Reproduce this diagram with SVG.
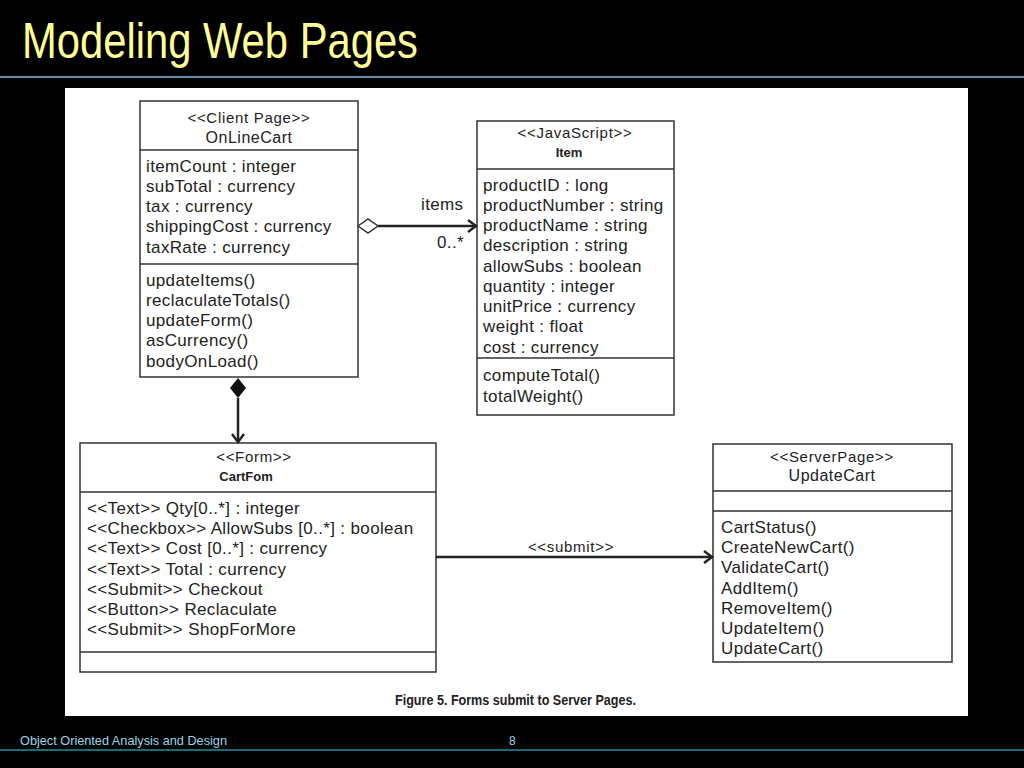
<svg xmlns="http://www.w3.org/2000/svg" width="1024" height="768" viewBox="0 0 1024 768">
<defs>
<style>
.t{font-family:"Liberation Sans",Arial,sans-serif;font-size:17px;letter-spacing:0.35px;fill:#222}
.st{font-family:"Liberation Sans",Arial,sans-serif;font-size:15px;letter-spacing:0.7px;fill:#222;text-anchor:middle}
.nm{font-family:"Liberation Sans",Arial,sans-serif;font-size:16px;letter-spacing:0.5px;fill:#222;text-anchor:middle}
.nb{font-family:"Liberation Sans",Arial,sans-serif;font-size:13px;font-weight:bold;fill:#222;text-anchor:middle}
.box{fill:#fff;stroke:#333;stroke-width:1.5}
.div{stroke:#333;stroke-width:1.5}
.con{stroke:#222;stroke-width:2.5;fill:none}
</style>
<marker id="open" markerWidth="12" markerHeight="14" refX="10" refY="7" orient="auto" markerUnits="userSpaceOnUse">
<path d="M2,1 L10,7 L2,13" fill="none" stroke="#222" stroke-width="2.5"/>
</marker>
</defs>
<rect x="0" y="0" width="1024" height="768" fill="#000"/>
<text x="22" y="58" font-family="Liberation Sans,Arial,sans-serif" font-size="50" fill="#FFFF99" textLength="396" lengthAdjust="spacingAndGlyphs">Modeling Web Pages</text>
<line x1="0" y1="77" x2="1024" y2="77" stroke="#5F8FAD" stroke-width="2"/>
<rect x="65" y="88" width="903" height="628" fill="#fff"/>

<g id="OnLineCart">
<rect class="box" x="140" y="101" width="218" height="276"/>
<line class="div" x1="140" y1="150" x2="358" y2="150"/>
<line class="div" x1="140" y1="264" x2="358" y2="264"/>
<text class="st" x="249" y="123">&lt;&lt;Client Page&gt;&gt;</text>
<text class="nm" x="249" y="143">OnLineCart</text>
<text class="t" x="146" y="172">itemCount : integer</text>
<text class="t" x="146" y="192">subTotal : currency</text>
<text class="t" x="146" y="212">tax : currency</text>
<text class="t" x="146" y="232">shippingCost : currency</text>
<text class="t" x="146" y="253">taxRate : currency</text>
<text class="t" x="146" y="286">updateItems()</text>
<text class="t" x="146" y="306">reclaculateTotals()</text>
<text class="t" x="146" y="326">updateForm()</text>
<text class="t" x="146" y="346">asCurrency()</text>
<text class="t" x="146" y="367">bodyOnLoad()</text>
</g>

<g id="Item">
<rect class="box" x="477" y="121" width="197" height="294"/>
<line class="div" x1="477" y1="169" x2="674" y2="169"/>
<line class="div" x1="477" y1="358" x2="674" y2="358"/>
<text class="st" x="575" y="138">&lt;&lt;JavaScript&gt;&gt;</text>
<text class="nb" x="569" y="157">Item</text>
<text class="t" x="483" y="191">productID : long</text>
<text class="t" x="483" y="211">productNumber : string</text>
<text class="t" x="483" y="231">productName : string</text>
<text class="t" x="483" y="251">description : string</text>
<text class="t" x="483" y="272">allowSubs : boolean</text>
<text class="t" x="483" y="292">quantity : integer</text>
<text class="t" x="483" y="312">unitPrice : currency</text>
<text class="t" x="483" y="332">weight : float</text>
<text class="t" x="483" y="353">cost : currency</text>
<text class="t" x="483" y="381">computeTotal()</text>
<text class="t" x="483" y="402">totalWeight()</text>
</g>

<g id="CartForm">
<rect class="box" x="80" y="443" width="356" height="229"/>
<line class="div" x1="80" y1="492" x2="436" y2="492"/>
<line class="div" x1="80" y1="652" x2="436" y2="652"/>
<text class="st" x="254" y="462">&lt;&lt;Form&gt;&gt;</text>
<text class="nb" x="246" y="481">CartFom</text>
<text class="t" x="87" y="514">&lt;&lt;Text&gt;&gt; Qty[0..*] : integer</text>
<text class="t" x="87" y="534">&lt;&lt;Checkbox&gt;&gt; AllowSubs [0..*] : boolean</text>
<text class="t" x="87" y="554">&lt;&lt;Text&gt;&gt; Cost [0..*] : currency</text>
<text class="t" x="87" y="575">&lt;&lt;Text&gt;&gt; Total : currency</text>
<text class="t" x="87" y="595">&lt;&lt;Submit&gt;&gt; Checkout</text>
<text class="t" x="87" y="615">&lt;&lt;Button&gt;&gt; Reclaculate</text>
<text class="t" x="87" y="635">&lt;&lt;Submit&gt;&gt; ShopForMore</text>
</g>

<g id="UpdateCart">
<rect class="box" x="713" y="444" width="239" height="218"/>
<line class="div" x1="713" y1="491" x2="952" y2="491"/>
<line class="div" x1="713" y1="511" x2="952" y2="511"/>
<text class="st" x="832" y="462">&lt;&lt;ServerPage&gt;&gt;</text>
<text class="nm" x="832" y="481">UpdateCart</text>
<text class="t" x="721" y="533">CartStatus()</text>
<text class="t" x="721" y="553">CreateNewCart()</text>
<text class="t" x="721" y="573">ValidateCart()</text>
<text class="t" x="721" y="594">AddItem()</text>
<text class="t" x="721" y="614">RemoveItem()</text>
<text class="t" x="721" y="634">UpdateItem()</text>
<text class="t" x="721" y="654">UpdateCart()</text>
</g>

<g id="connectors">
<path d="M358,226 L368,219 L378,226 L368,233 Z" fill="#fff" stroke="#333" stroke-width="1.5"/>
<line class="con" x1="378" y1="226" x2="476" y2="226" marker-end="url(#open)"/>
<text class="t" x="421" y="210">items</text>
<text class="t" x="437" y="248">0..*</text>
<path d="M238,378 L246,388 L238,398 L230,388 Z" fill="#111"/>
<line class="con" x1="238" y1="398" x2="238" y2="442" marker-end="url(#open)"/>
<line class="con" x1="436" y1="557" x2="712" y2="557" marker-end="url(#open)"/>
<text class="st" x="571" y="552">&lt;&lt;submit&gt;&gt;</text>
</g>

<text x="395" y="705" font-family="Liberation Sans,Arial,sans-serif" font-size="14" font-weight="bold" fill="#222" textLength="241" lengthAdjust="spacingAndGlyphs">Figure 5. Forms submit to Server Pages.</text>
<line x1="0" y1="750" x2="1024" y2="750" stroke="#1F6878" stroke-width="2"/>
<text x="20" y="745" font-family="Liberation Sans,Arial,sans-serif" font-size="13" fill="#9CD4E6" textLength="207" lengthAdjust="spacingAndGlyphs">Object Oriented Analysis and Design</text>
<text x="509" y="745" font-family="Liberation Sans,Arial,sans-serif" font-size="12" fill="#9CD4E6">8</text>
</svg>
